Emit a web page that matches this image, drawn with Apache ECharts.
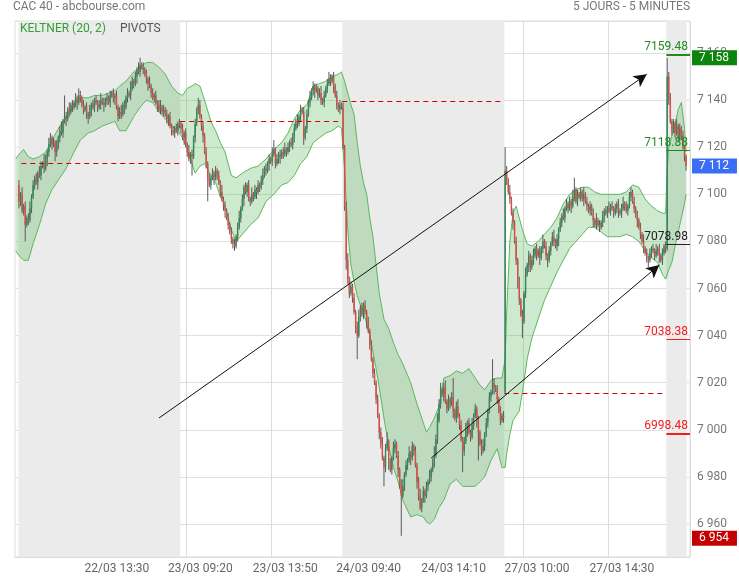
<!DOCTYPE html>
<html>
<head>
<meta charset="utf-8">
<title>CAC 40 - 5 jours</title>
<script src="https://cdn.jsdelivr.net/npm/echarts@6/dist/echarts.min.js"></script>
<style>
    html, body { margin: 0; padding: 0; background: #fff; }
    #cac40 { width: 739px; height: 580px; }
</style>
</head>
<body>
<div id="cac40"></div>
<script>
    // jours affiches et ouvertures
    const days = ['22/03', '23/03', '24/03', '27/03', '28/03']
    const dayOpens = [7104, 7130, 7137, 7016, 7077]

    // clotures 5 minutes, un tableau par jour
    const close1 = [7097, 7100, 7093, 7095, 7087, 7090, 7089, 7094, 7099, 7104,
        7107, 7105, 7109, 7108, 7112, 7113, 7111, 7115, 7118, 7121,
        7124, 7121, 7122, 7118, 7120, 7124, 7127, 7126, 7131, 7133,
        7132, 7136, 7135, 7138, 7137, 7139, 7141, 7139, 7142, 7141,
        7138, 7136, 7137, 7134, 7133, 7135, 7138, 7137, 7140, 7139,
        7137, 7138, 7140, 7139, 7138, 7140, 7141, 7139, 7142, 7143,
        7141, 7142, 7137, 7133, 7135, 7134, 7138, 7137, 7141, 7143,
        7142, 7145, 7148, 7147, 7150, 7153, 7152, 7155, 7154, 7153,
        7151, 7149, 7147, 7146, 7143, 7141, 7142, 7139, 7138, 7136,
        7137, 7135, 7136, 7134, 7132, 7133, 7129, 7127, 7126, 7128,
        7127, 7130, 7129]
    const close2 = [7128, 7124, 7126, 7121, 7118, 7115, 7117, 7116, 7124, 7130,
        7136, 7138, 7133, 7129, 7125, 7118, 7113, 7106, 7104, 7107,
        7109, 7107, 7110, 7108, 7105, 7101, 7098, 7095, 7093, 7090,
        7087, 7084, 7081, 7079, 7078, 7082, 7086, 7090, 7094, 7098,
        7103, 7101, 7104, 7098, 7097, 7100, 7099, 7102, 7101, 7104,
        7103, 7106, 7108, 7111, 7110, 7113, 7115, 7114, 7117, 7119,
        7113, 7115, 7117, 7116, 7118, 7117, 7119, 7118, 7120, 7122,
        7121, 7125, 7128, 7131, 7130, 7133, 7136, 7135, 7124, 7128,
        7134, 7139, 7141, 7144, 7146, 7144, 7145, 7142, 7143, 7140,
        7139, 7142, 7145, 7147, 7149, 7148, 7150, 7146, 7142, 7138,
        7136, 7138, 7137]
    const close3 = [7120, 7095, 7072, 7064, 7058, 7061, 7056, 7050, 7044, 7040,
        7048, 7052, 7049, 7053, 7050, 7046, 7042, 7036, 7030, 7024,
        7020, 7013, 7006, 6999, 6994, 6988, 6984, 6992, 6995, 6986,
        6983, 6988, 6992, 6994, 6989, 6983, 6977, 6972, 6976, 6981,
        6985, 6987, 6990, 6988, 6993, 6991, 6985, 6978, 6972, 6967,
        6970, 6974, 6972, 6976, 6978, 6980, 6983, 6986, 6989, 6996,
        7004, 7011, 7017, 7015, 7018, 7012, 7009, 7013, 7011, 7014,
        7008, 7005, 7010, 7006, 7002, 6996, 6991, 6995, 7000, 7003,
        6999, 6997, 7002, 7006, 7009, 7004, 6999, 6994, 6991, 6993,
        6998, 7003, 7008, 7014, 7016, 7020, 7018, 7017, 7013, 7008,
        7004, 7006, 7005]
    const close4 = [7110, 7106, 7101, 7098, 7092, 7088, 7080, 7072, 7063, 7055,
        7049, 7046, 7058, 7066, 7070, 7074, 7069, 7072, 7074, 7077,
        7074, 7076, 7073, 7077, 7080, 7078, 7074, 7072, 7076, 7079,
        7082, 7080, 7078, 7081, 7085, 7088, 7091, 7090, 7094, 7096,
        7094, 7097, 7095, 7099, 7102, 7097, 7100, 7099, 7101, 7098,
        7100, 7097, 7095, 7093, 7095, 7092, 7089, 7087, 7089, 7087,
        7086, 7088, 7091, 7093, 7092, 7094, 7093, 7095, 7094, 7092,
        7094, 7096, 7093, 7092, 7094, 7096, 7095, 7093, 7095, 7099,
        7101, 7097, 7094, 7091, 7089, 7086, 7083, 7080, 7077, 7075,
        7073, 7072, 7075, 7077, 7076, 7074, 7076, 7077, 7074, 7072,
        7075, 7078, 7077]
    const close5 = [7150, 7140, 7131, 7127, 7130, 7126, 7129, 7124, 7128, 7125, 7120, 7116, 7112]

    // meches (points au-dessus / au-dessous du corps)
    const wickUp1 = [2, 1, 3, 1, 2, 1, 2, 3, 1, 2, 1, 2, 1, 3, 2, 1, 4, 2, 1, 3, 2, 1, 2, 1, 3, 1, 2, 4, 1, 9,
        2, 1, 3, 1, 2, 1, 2, 1, 3, 2, 1, 2, 1, 2, 1, 3, 1, 2, 1, 2, 1, 2, 3, 1, 2, 1, 2, 1, 2, 1,
        2, 1, 2, 1, 2, 3, 1, 2, 1, 2, 1, 3, 2, 1, 2, 1, 3, 3, 1, 2, 1, 2, 1, 3, 1, 2, 1, 2, 1, 2,
        3, 1, 2, 1, 2, 1, 2, 1, 2, 1, 2, 1, 2]
    const wickDown1 = [3, 2, 1, 2, 7, 1, 2, 1, 2, 1, 2, 1, 3, 1, 2, 1, 2, 1, 3, 2, 1, 2, 1, 4, 2, 1, 2, 1, 2, 1,
        3, 1, 2, 1, 2, 1, 2, 3, 1, 2, 1, 2, 1, 2, 3, 1, 2, 1, 2, 1, 2, 1, 2, 1, 3, 1, 2, 1, 2, 1,
        2, 3, 1, 2, 1, 2, 1, 3, 1, 2, 1, 2, 1, 2, 1, 3, 1, 2, 1, 2, 1, 2, 3, 1, 2, 1, 2, 1, 3, 1,
        2, 1, 2, 1, 2, 3, 1, 2, 1, 2, 1, 2, 1]
    const wickUp2 = [1, 2, 1, 2, 1, 3, 1, 2, 1, 2, 1, 3, 2, 1, 2, 1, 2, 1, 3, 1, 2, 1, 2, 1, 2, 1, 3, 1, 2, 1,
        2, 1, 2, 1, 2, 1, 2, 3, 1, 2, 1, 2, 1, 2, 1, 3, 1, 2, 1, 2, 1, 2, 3, 1, 2, 1, 2, 1, 3, 4,
        1, 2, 1, 2, 1, 2, 3, 1, 2, 1, 2, 1, 2, 1, 3, 1, 2, 1, 2, 1, 2, 1, 3, 1, 2, 1, 2, 1, 2, 3,
        1, 2, 1, 2, 3, 2, 1, 2, 1, 2, 1, 2, 1]
    const wickDown2 = [2, 1, 3, 1, 2, 1, 2, 8, 1, 2, 1, 2, 1, 2, 3, 1, 2, 9, 1, 2, 1, 3, 1, 2, 1, 2, 1, 2, 3, 1,
        2, 1, 2, 2, 2, 1, 2, 1, 2, 1, 3, 1, 2, 1, 2, 1, 2, 1, 3, 1, 2, 1, 2, 1, 2, 1, 3, 1, 2, 1,
        2, 1, 2, 3, 1, 2, 1, 2, 1, 2, 1, 2, 3, 1, 2, 1, 2, 1, 3, 1, 2, 1, 2, 1, 2, 3, 1, 2, 1, 2,
        1, 2, 1, 2, 1, 2, 1, 3, 1, 2, 1, 2, 1]
    const wickUp3 = [2, 1, 2, 3, 1, 2, 1, 2, 1, 2, 3, 1, 2, 1, 2, 1, 2, 1, 2, 1, 2, 1, 2, 1, 2, 3, 1, 2, 4, 1,
        2, 1, 3, 2, 1, 2, 1, 2, 3, 1, 2, 1, 3, 1, 2, 1, 2, 1, 2, 3, 1, 2, 1, 2, 1, 3, 1, 2, 4, 2,
        3, 2, 3, 1, 2, 3, 1, 2, 1, 2, 8, 1, 2, 3, 1, 2, 1, 2, 3, 1, 2, 1, 3, 1, 2, 1, 2, 1, 2, 3,
        1, 2, 1, 2, 1, 10, 2, 1, 2, 1, 2, 1, 2]
    const wickDown3 = [1, 2, 4, 2, 2, 1, 2, 1, 3, 10, 1, 2, 1, 2, 1, 3, 1, 2, 1, 2, 1, 2, 1, 3, 2, 1, 8, 2, 1, 3,
        1, 2, 1, 2, 1, 3, 2, 17, 1, 2, 1, 2, 1, 3, 1, 2, 1, 3, 2, 1, 2, 1, 3, 1, 2, 1, 2, 1, 2, 1,
        2, 1, 2, 1, 3, 1, 2, 1, 2, 1, 3, 1, 2, 1, 2, 1, 9, 2, 1, 3, 1, 2, 1, 2, 1, 3, 12, 1, 2, 1,
        2, 1, 2, 1, 2, 1, 3, 1, 2, 1, 2, 1, 2]
    const wickUp4 = [10, 2, 1, 3, 1, 2, 1, 2, 1, 2, 1, 2, 1, 3, 1, 2, 1, 2, 3, 1, 2, 1, 2, 1, 3, 1, 2, 1, 2, 1,
        2, 3, 1, 2, 1, 2, 1, 3, 1, 2, 1, 2, 1, 3, 5, 1, 2, 1, 2, 1, 3, 1, 2, 1, 2, 1, 2, 1, 3, 1,
        2, 1, 2, 1, 2, 1, 3, 1, 2, 1, 2, 1, 2, 1, 2, 3, 1, 2, 1, 2, 2, 1, 2, 1, 2, 1, 2, 1, 3, 1,
        2, 1, 2, 1, 2, 1, 3, 1, 2, 1, 2, 1, 2]
    const wickDown4 = [1, 2, 1, 2, 1, 3, 1, 2, 3, 2, 1, 7, 1, 2, 1, 3, 2, 1, 2, 1, 2, 1, 3, 1, 2, 1, 2, 3, 1, 2,
        1, 2, 1, 2, 3, 1, 2, 1, 2, 1, 2, 1, 3, 1, 2, 1, 2, 1, 2, 1, 3, 1, 2, 1, 2, 1, 3, 1, 2, 1,
        2, 1, 2, 3, 1, 2, 1, 2, 1, 2, 1, 2, 3, 1, 2, 1, 2, 1, 2, 1, 2, 1, 2, 1, 3, 1, 2, 1, 2, 1,
        2, 3, 1, 2, 1, 2, 1, 2, 3, 1, 2, 1, 2]
    const wickUp5 = [8, 2, 3, 1, 2, 1, 3, 1, 2, 1, 2, 1, 1]
    const wickDown5 = [1, 2, 1, 2, 1, 2, 1, 2, 1, 2, 1, 2, 2]

    // Keltner (20, 2), par indice de bougie
    const bandIdx = [-2, 0, 3, 6, 9, 13, 17, 21, 26, 30, 35, 39, 44, 48, 53, 57, 61, 64, 68, 73, 77, 81, 85, 89, 93, 97, 101,
        104, 107, 110, 112, 115, 118, 122, 125, 128, 131, 135, 138, 142, 147, 152, 157, 162, 167, 171, 175, 179, 183, 187, 191, 195, 199, 203,
        205, 207, 209, 211, 213, 215, 217, 219, 221, 223, 225, 227, 229, 232, 235, 238, 241, 244, 249, 253, 257, 259, 261, 264, 267, 270, 274, 278, 282, 286, 290, 293, 296, 300, 304, 307,
        309, 310, 312, 314, 316, 318, 320, 323, 326, 330, 334, 338, 342, 346, 350, 354, 358, 362, 366, 370, 374, 378, 382, 386, 390, 394, 398, 402, 406, 409, 411,
        412, 413, 415, 417, 419, 421, 423, 424]
    const bandUp = [7115, 7117, 7119, 7116, 7115, 7116, 7118, 7123, 7129, 7133, 7138, 7141, 7141, 7142, 7142, 7143, 7144, 7146, 7148, 7152, 7154, 7156, 7156, 7154, 7151, 7146, 7143,
        7142, 7145, 7146, 7147, 7146, 7140, 7131, 7127, 7122, 7118, 7108, 7107, 7109, 7111, 7112, 7115, 7119, 7122, 7126, 7132, 7136, 7138, 7146, 7147, 7148, 7150, 7151,
        7152, 7148, 7143, 7138, 7134, 7122, 7112, 7105, 7100, 7090, 7082, 7070, 7058, 7047, 7043, 7037, 7032, 7028, 7020, 7011, 7003, 6999, 7001, 7005, 7010, 7022, 7023, 7025, 7024, 7026, 7022, 7019, 7017, 7021, 7022, 7022,
        7030, 7050, 7080, 7092, 7095, 7090, 7085, 7079, 7078, 7080, 7083, 7086, 7090, 7096, 7100, 7102, 7103, 7103, 7101, 7100, 7100, 7100, 7100, 7101, 7104, 7103, 7098, 7095, 7093, 7092, 7092,
        7110, 7120, 7125, 7130, 7136, 7139, 7128, 7118]
    const bandLow = [7076, 7074, 7072, 7072, 7079, 7087, 7096, 7102, 7107, 7111, 7118, 7123, 7126, 7127, 7129, 7130, 7131, 7127, 7127, 7133, 7137, 7140, 7139, 7135, 7132, 7129, 7127,
        7124, 7119, 7113, 7109, 7112, 7113, 7108, 7105, 7099, 7095, 7085, 7080, 7083, 7087, 7090, 7097, 7100, 7104, 7105, 7108, 7113, 7116, 7122, 7124, 7126, 7127, 7129,
        7128, 7110, 7085, 7070, 7063, 7057, 7053, 7050, 7045, 7040, 7033, 7026, 7018, 7005, 6993, 6984, 6978, 6970, 6963, 6964, 6963, 6961, 6960, 6962, 6967, 6970, 6977, 6979, 6976, 6976, 6976, 6978, 6980, 6987, 6992, 6984,
        6984, 6990, 6998, 7004, 7006, 7008, 7016, 7030, 7039, 7047, 7055, 7061, 7067, 7072, 7077, 7080, 7083, 7086, 7086, 7084, 7082, 7082, 7082, 7083, 7082, 7080, 7076, 7073, 7071, 7066, 7064,
        7064, 7068, 7071, 7078, 7084, 7090, 7096, 7100]

    // pivots
    const pivotLevels = [7159.48, 7118.88, 7078.98, 7038.38, 6998.48]
    const pivotColors = ['#1e8c1e', '#1e8c1e', '#222222', '#f21d1d', '#f21d1d']
    const pivotWidths = [2, 1, 1, 1, 2]
    const prevPivots = [7113.3, 7131.0, 7139.5, 7015.5, 7078.98]

    // etiquettes de l'axe des temps
    const xTicks = ['22/03 13:30', '23/03 09:20', '23/03 13:50', '24/03 09:40', '24/03 14:10', '27/03 10:00', '27/03 14:30']

    // plus haut, dernier, plus bas
    const tagValues = [7158, 7112, 6954]
    const tagColors = ['#0b850b', '#3a6ef5', '#c40000']

    // tendances tracees a la main (indice de bougie, cours)
    const arrowLines = [[[89, 7005], [399, 7151]], [[262, 6988], [407, 7070]]]

    const PAD = 2
    const dayCloses = [close1, close2, close3, close4, close5]
    const dayWickUp = [wickUp1, wickUp2, wickUp3, wickUp4, wickUp5]
    const dayWickDown = [wickDown1, wickDown2, wickDown3, wickDown4, wickDown5]

    const candles = []
    const categories = []
    for (let p = 0; p < PAD; p++) categories.push('pad' + p)
    const dayStart = []
    days.forEach(function (d, di) {
        const cl = dayCloses[di]
        dayStart.push(candles.length)
        for (let j = 0; j < cl.length; j++) {
            const o = j === 0 ? dayOpens[di] : cl[j - 1]
            const c = cl[j]
            candles.push([candles.length, o, c, Math.min(o, c) - dayWickDown[di][j], Math.max(o, c) + dayWickUp[di][j]])
            const t = 9 * 60 + j * 5
            const hh = String(Math.floor(t / 60)).padStart(2, '0')
            const mm = String(t % 60).padStart(2, '0')
            categories.push(d + ' ' + hh + ':' + mm)
        }
    })
    for (let p = 0; p < PAD; p++) categories.push('pad_end' + p)
    const N = candles.length
    dayStart.push(N)

    const fmt = function (v) {
        return String(Math.round(v)).replace(/\B(?=(\d{3})+(?!\d))/g, ' ')
    }
    const showTick = function (index, value) {
        return xTicks.indexOf(value) >= 0
    }

    // seances grisees
    const shadeAreas = [
        [{xAxis: dayStart[0] - 0.3}, {xAxis: dayStart[1] - 0.5}],
        [{xAxis: dayStart[2] - 0.5}, {xAxis: dayStart[3] - 0.5}],
        [{xAxis: dayStart[4] - 0.5}, {xAxis: N - 0.7}]
    ]

    const markLines = []
    prevPivots.forEach(function (v, k) {
        const s = k === 0 ? 1.5 : dayStart[k] - 0.5
        const e = k === 4 ? N + PAD - 0.5 : dayStart[k + 1] - 0.5
        markLines.push([
            {coord: [s, v], lineStyle: {color: '#d40000', width: 1, type: [5, 4]}},
            {coord: [e, v]}
        ])
    })
    pivotLevels.forEach(function (v, k) {
        markLines.push([
            {
                coord: [dayStart[4] - 0.5, v],
                lineStyle: {color: pivotColors[k], width: pivotWidths[k], type: 'solid'},
                label: {
                    show: true, position: 'insideEndTop', formatter: v.toFixed(2),
                    color: pivotColors[k], fontSize: 12, fontFamily: 'Roboto', distance: [2, 1]
                }
            },
            {coord: [N + PAD - 0.5, v]}
        ])
    })
    arrowLines.forEach(function (a) {
        markLines.push([
            {coord: a[0], symbol: 'none', lineStyle: {color: '#111', width: 1, type: 'solid'}},
            {coord: a[1], symbol: 'arrow', symbolSize: [10, 13]}
        ])
    })
    tagValues.forEach(function (v, k) {
        markLines.push({
            yAxis: v,
            lineStyle: {color: 'rgba(0,0,0,0)', width: 0},
            label: {
                show: true, position: 'end', distance: 2, formatter: fmt(v),
                color: '#fff', backgroundColor: tagColors[k], padding: [2, 8, 1, 7],
                fontSize: 12, fontFamily: 'Roboto'
            }
        })
    })

    const option = {
        animation: false,
        backgroundColor: '#fff',
        textStyle: {fontFamily: 'Roboto'},
        title: [
            {text: 'CAC 40 - abcbourse.com', left: 13, top: 1, padding: 0,
                textStyle: {color: '#777', fontSize: 12, fontWeight: 'normal'}},
            {text: '5 JOURS - 5 MINUTES', right: 49, top: 1, padding: 0,
                textStyle: {color: '#777', fontSize: 12, fontWeight: 'normal'}},
            {text: 'KELTNER (20, 2)', left: 20, top: 23, padding: 0,
                textStyle: {color: '#35a035', fontSize: 12, fontWeight: 'normal'}},
            {text: 'PIVOTS', left: 120, top: 23, padding: 0,
                textStyle: {color: '#555', fontSize: 12, fontWeight: 'normal'}}
        ],
        grid: {
            left: 15, right: 49, top: 21, bottom: 23,
            show: true, borderColor: '#dcdcdc', borderWidth: 1, backgroundColor: '#fff'
        },
        xAxis: [
            {
                type: 'category',
                data: categories,
                boundaryGap: true,
                axisLine: {lineStyle: {color: '#dcdcdc'}},
                axisTick: {show: false},
                axisLabel: {interval: showTick, color: '#666', fontSize: 12, margin: 6, padding: [0, 0, 0, 26]},
                splitLine: {show: true, interval: showTick, lineStyle: {color: '#dcdcdc'}}
            },
            {
                type: 'value',
                show: false,
                min: -PAD - 0.5,
                max: N + PAD - 0.5
            }
        ],
        yAxis: {
            type: 'value',
            position: 'right',
            min: 6946,
            max: 7173.6,
            minInterval: 20,
            maxInterval: 20,
            splitNumber: 11,
            axisLine: {show: false},
            axisTick: {show: false},
            axisLabel: {
                color: '#777', fontSize: 12, margin: 7, showMinLabel: false, showMaxLabel: false,
                padding: [0, 0, 5, 0],
                formatter: function (v) { return v % 20 === 0 ? fmt(v) : '' }
            },
            splitLine: {lineStyle: {color: '#e0e0e0'}}
        },
        series: [
            {
                // remplissage du canal
                name: 'keltnerFill',
                type: 'custom',
                xAxisIndex: 1,
                z: 2,
                silent: true,
                clip: true,
                encode: {x: 0, y: [1, 2]},
                data: bandIdx.map(function (x, k) { return [x, bandUp[k], bandLow[k]] }),
                renderItem: function (params, api) {
                    if (params.dataIndex !== 0) return null
                    const pts = []
                    for (let k = 0; k < bandIdx.length; k++) pts.push(api.coord([bandIdx[k], bandUp[k]]))
                    for (let k = bandIdx.length - 1; k >= 0; k--) pts.push(api.coord([bandIdx[k], bandLow[k]]))
                    return {type: 'polygon', shape: {points: pts}, style: {fill: 'rgba(76,175,80,0.28)'}}
                },
                markArea: {
                    silent: true,
                    itemStyle: {color: '#ebebeb'},
                    data: shadeAreas
                }
            },
            {
                name: 'keltnerBas',
                type: 'line',
                xAxisIndex: 1,
                data: bandIdx.map(function (x, k) { return [x, bandLow[k]] }),
                showSymbol: false,
                lineStyle: {color: '#5cb85c', width: 1},
                z: 2
            },
            {
                name: 'keltnerHaut',
                type: 'line',
                xAxisIndex: 1,
                data: bandIdx.map(function (x, k) { return [x, bandUp[k]] }),
                showSymbol: false,
                lineStyle: {color: '#5cb85c', width: 1},
                z: 2,
                markLine: {
                    silent: true,
                    symbol: ['none', 'none'],
                    label: {show: false},
                    data: markLines
                }
            },
            {
                name: 'CAC 40',
                type: 'custom',
                xAxisIndex: 1,
                z: 3,
                encode: {x: 0, y: [1, 2, 3, 4]},
                data: candles,
                renderItem: function (params, api) {
                    const i = api.value(0)
                    const o = api.value(1)
                    const c = api.value(2)
                    const pO = api.coord([i, o])
                    const pC = api.coord([i, c])
                    const pL = api.coord([i, api.value(3)])
                    const pH = api.coord([i, api.value(4)])
                    const w = Math.max(1, api.size([1, 0])[0] * 0.9)
                    const top = Math.min(pO[1], pC[1])
                    return {
                        type: 'group',
                        children: [
                            {type: 'line', shape: {x1: pH[0], y1: pH[1], x2: pL[0], y2: pL[1]},
                                style: {stroke: '#595959', lineWidth: 1}},
                            {type: 'rect', shape: {x: pO[0] - w / 2, y: top, width: w, height: Math.max(1, Math.abs(pO[1] - pC[1]))},
                                style: {fill: c >= o ? '#2e8b57' : '#e04a3f'}}
                        ]
                    }
                }
            }
        ]
    }

    const chart = echarts.init(document.getElementById('cac40'))
    chart.setOption(option)
    window.addEventListener('resize', function () { chart.resize() })
</script>
</body>
</html>
